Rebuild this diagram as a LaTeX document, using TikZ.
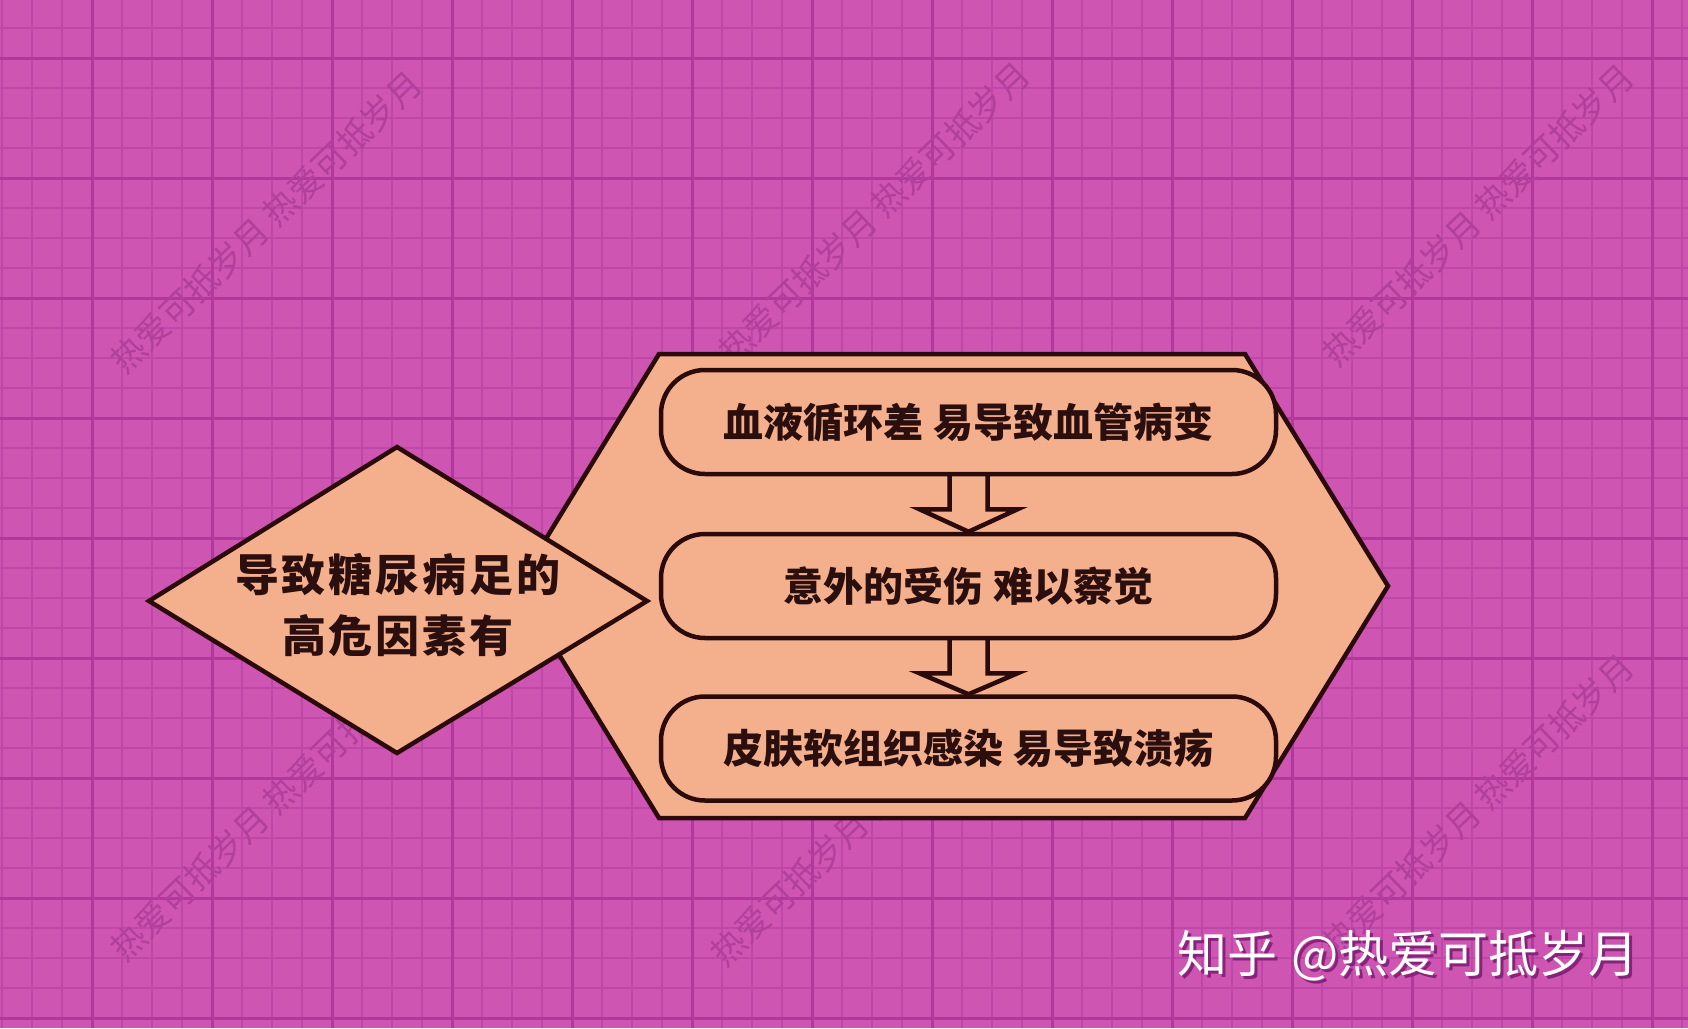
\documentclass[tikz,border=0pt]{standalone}
\usepackage{fontspec}
\newfontfamily\cjk{Noto Sans CJK SC}
\usetikzlibrary{calc}
\definecolor{bgpink}{HTML}{CE55B1}
\definecolor{gridminor}{HTML}{BF47A7}
\definecolor{gridmajor}{HTML}{B2389C}
\definecolor{peach}{HTML}{F4B08D}
\definecolor{outline}{HTML}{2A0A0A}
\definecolor{textc}{HTML}{2B0E0E}
\definecolor{wmark}{HTML}{B0409C}
\definecolor{shadowc}{HTML}{86247A}
\tikzset{
  shapestyle/.style={draw=outline, fill=peach, line width=4.5pt, line join=miter},
  box/.style={draw=outline, fill=peach, line width=4.5pt, rounded corners=44pt,
    minimum width=615pt, minimum height=104pt, inner sep=0pt, text=textc,
    font=\cjk\bfseries\fontsize{40}{48}\selectfont},
  blockarrow/.style={draw=outline, fill=peach, line width=4.5pt, line join=miter},
  wm/.style={text=wmark, font=\cjk\fontsize{34}{38}\selectfont, inner sep=0pt},
  sig/.style={font=\cjk\fontsize{50}{58}\selectfont, inner sep=0pt},
}
\begin{document}
\begin{tikzpicture}[x=1pt,y=-1pt]
\fill[bgpink] (0,0) rectangle (1688,1028);
\useasboundingbox (0,0) rectangle (1688,1028);
% grid
\foreach \x in {2,32,...,1682} \draw[gridminor,line width=1.8pt] (\x,0) -- (\x,1028);
\foreach \y in {28,58,...,1018} \draw[gridminor,line width=1.8pt] (0,\y) -- (1688,\y);
\foreach \x in {92,212,...,1652} \draw[gridmajor,line width=3pt] (\x,0) -- (\x,1028);
\foreach \y in {58,178,...,1018} \draw[gridmajor,line width=3pt] (0,\y) -- (1688,\y);
% watermarks
\node[wm, rotate=44] (w1) at (266,222) {热爱可抵岁月 热爱可抵岁月};
\node[wm, rotate=44] (w2) at (874,213) {热爱可抵岁月 热爱可抵岁月};
\node[wm, rotate=44] (w3) at (1478,215) {热爱可抵岁月 热爱可抵岁月};
\node[wm, rotate=44] (w4) at (266,810) {热爱可抵岁月 热爱可抵岁月};
\node[wm, rotate=44] (w5) at (866,815) {热爱可抵岁月 热爱可抵岁月};
\node[wm, rotate=44] (w6) at (1478,805) {热爱可抵岁月 热爱可抵岁月};
% hexagon
\draw[shapestyle] (659,354) -- (1245,354) -- (1388,586) -- (1245,818) -- (659,818) -- (517,586) -- cycle;
% boxes (positions) and arrows
\path (968.5,422) coordinate (c1) (968.5,586) coordinate (c2) (968.5,748.5) coordinate (c3);
\node[box, draw=none, fill=none] (b1) at (c1) {\phantom{血}};
\node[box, draw=none, fill=none] (b2) at (c2) {\phantom{血}};
\node[box, draw=none, fill=none] (b3) at (c3) {\phantom{血}};
\draw[blockarrow] ($(b1.south)+(-19,-2)$) -- ($(b1.south)+(-19,33)$) -- ($(b1.south)+(-49,33)$) -- (b2.north) -- ($(b1.south)+(49,33)$) -- ($(b1.south)+(19,33)$) -- ($(b1.south)+(19,-2)$);
\draw[blockarrow] ($(b2.south)+(-19,-2)$) -- ($(b2.south)+(-19,33)$) -- ($(b2.south)+(-49,33)$) -- (b3.north) -- ($(b2.south)+(49,33)$) -- ($(b2.south)+(19,33)$) -- ($(b2.south)+(19,-2)$);
\node[box] (box1) at (c1) {血液循环差 易导致血管病变};
\node[box] (box2) at (c2) {意外的受伤 难以察觉};
\node[box] (box3) at (c3) {皮肤软组织感染 易导致溃疡};
% diamond
\draw[shapestyle] (149,601) -- (397,447) -- (647,601) -- (397,753) -- cycle;
\node[text=textc, align=center, inner sep=0pt, font=\cjk\bfseries\fontsize{44}{61}\selectfont] (dtext) at (398,605) {导\kern3pt 致\kern3pt 糖\kern3pt 尿\kern3pt 病\kern3pt 足\kern3pt 的\\高\kern3pt 危\kern3pt 因\kern3pt 素\kern3pt 有};
% signature
\node[sig, text=shadowc] (sigshadow) at (1411,959) {知乎\hspace{14pt}@热爱可抵岁月};
\node[sig, text=white] (sig) at (1408,956) {知乎\hspace{14pt}@热爱可抵岁月};
\end{tikzpicture}
\end{document}
